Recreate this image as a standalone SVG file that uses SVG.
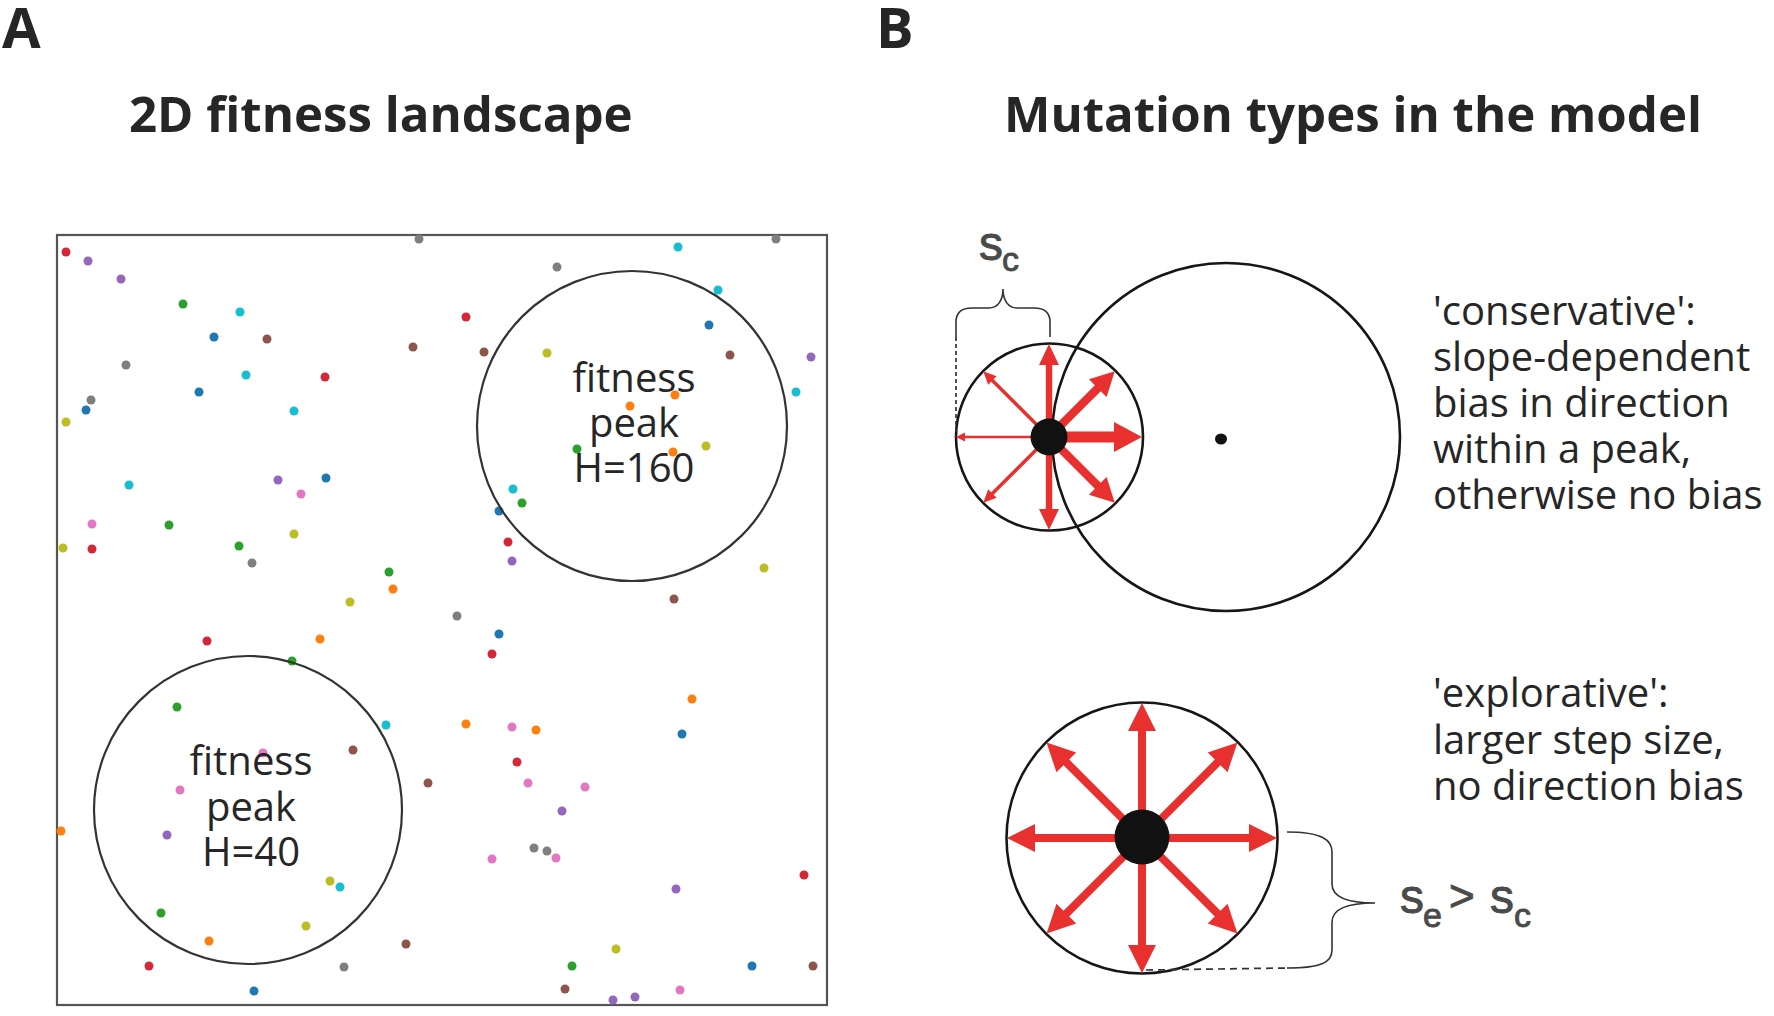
<svg xmlns="http://www.w3.org/2000/svg" xmlns:xlink="http://www.w3.org/1999/xlink" width="1774" height="1016" viewBox="0 0 1774 1016">
<style>
text{font-family:"Open Sans","Liberation Sans",sans-serif;fill:#262626}
.panel{font-weight:700;font-size:56px}
.title{font-weight:700;font-size:49.2px}
.lbl{font-size:40px}
.sym{font-family:"Liberation Sans",Arial,sans-serif;fill:#4a4a4a;stroke:#4a4a4a;stroke-width:0.9}
.box{fill:none;stroke:#555;stroke-width:2.2}
.peak{fill:none;stroke:#333;stroke-width:2.2}
.ring{fill:none;stroke:#161616;stroke-width:2.6}
.brace{fill:none;stroke:#333;stroke-width:1.6}
.dash{fill:none;stroke:#333;stroke-width:1.7;stroke-dasharray:7 5}
.arr{fill:#e8312f}
.r{fill:#d62739}.p{fill:#9467bd}.g{fill:#2ca02c}.c{fill:#17becf}.b{fill:#1f77b4}
.n{fill:#8c564b}.y{fill:#7f7f7f}.o{fill:#bcbd22}.f{fill:#ff7f0e}.k{fill:#e377c2}
</style>
<defs>
<polygon id="aBig" points="0,-5.5 65,-5.5 65,-15 93,0 65,15 65,5.5 0,5.5"/>
<polygon id="aDiag" points="0,-4.2 69,-4.2 69,-12.5 93,0 69,12.5 69,4.2 0,4.2"/>
<polygon id="aMid" points="0,-3.2 72,-3.2 72,-10 93,0 72,10 72,3.2 0,3.2"/>
<polygon id="aThin" points="0,-1.7 80,-1.7 80,-6 93,0 80,6 80,1.7 0,1.7"/>
<polygon id="aMin" points="0,-1.3 84,-1.3 84,-4.5 93,0 84,4.5 84,1.3 0,1.3"/>
<polygon id="aExp" points="0,-4 107,-4 107,-14 135,0 107,14 107,4 0,4"/>
</defs>
<rect width="1774" height="1016" fill="#fff"/>

<g id="panel-a-label"><text class="panel" x="2" y="48">A</text></g>
<g id="panel-b-label"><text class="panel" x="876" y="48">B</text></g>
<g id="title-a"><text class="title" x="129" y="132">2D fitness landscape</text></g>
<g id="title-b"><text class="title" x="1004" y="132">Mutation types in the model</text></g>

<g id="landscape">
<rect class="box" x="57" y="235" width="770" height="770"/>
<g id="population">
<circle class="r" cx="66" cy="252" r="4.5"/><circle class="p" cx="88" cy="261" r="4.5"/><circle class="p" cx="121" cy="279" r="4.5"/>
<circle class="g" cx="183" cy="304" r="4.5"/><circle class="c" cx="240" cy="312" r="4.5"/><circle class="b" cx="214" cy="337" r="4.5"/>
<circle class="n" cx="267" cy="339" r="4.5"/><circle class="y" cx="126" cy="365" r="4.5"/><circle class="c" cx="246" cy="375" r="4.5"/>
<circle class="r" cx="325" cy="377" r="4.5"/><circle class="b" cx="199" cy="392" r="4.5"/><circle class="y" cx="91" cy="400" r="4.5"/>
<circle class="b" cx="86" cy="410" r="4.5"/><circle class="o" cx="66" cy="422" r="4.5"/><circle class="c" cx="294" cy="411" r="4.5"/>
<circle class="c" cx="129" cy="485" r="4.5"/><circle class="p" cx="278" cy="480" r="4.5"/><circle class="b" cx="326" cy="478" r="4.5"/>
<circle class="k" cx="301" cy="494" r="4.5"/><circle class="k" cx="92" cy="524" r="4.5"/><circle class="g" cx="169" cy="525" r="4.5"/>
<circle class="o" cx="63" cy="548" r="4.5"/><circle class="r" cx="92" cy="549" r="4.5"/><circle class="g" cx="239" cy="546" r="4.5"/>
<circle class="o" cx="294" cy="534" r="4.5"/><circle class="y" cx="252" cy="563" r="4.5"/><circle class="g" cx="389" cy="572" r="4.5"/>
<circle class="f" cx="393" cy="589" r="4.5"/><circle class="o" cx="350" cy="602" r="4.5"/><circle class="y" cx="457" cy="616" r="4.5"/>
<circle class="y" cx="419" cy="239" r="4.5"/><circle class="r" cx="466" cy="317" r="4.5"/><circle class="n" cx="413" cy="347" r="4.5"/>
<circle class="c" cx="678" cy="247" r="4.5"/><circle class="y" cx="557" cy="267" r="4.5"/><circle class="y" cx="776" cy="239" r="4.5"/>
<circle class="c" cx="718" cy="290" r="4.5"/><circle class="b" cx="709" cy="325" r="4.5"/><circle class="n" cx="484" cy="352" r="4.5"/>
<circle class="o" cx="547" cy="353" r="4.5"/><circle class="n" cx="730" cy="355" r="4.5"/><circle class="p" cx="811" cy="357" r="4.5"/>
<circle class="c" cx="796" cy="392" r="4.5"/><circle class="f" cx="675" cy="395" r="4.5"/><circle class="f" cx="630" cy="406" r="4.5"/>
<circle class="g" cx="577" cy="449" r="4.5"/><circle class="f" cx="673" cy="452" r="4.5"/><circle class="o" cx="706" cy="446" r="4.5"/>
<circle class="c" cx="513" cy="489" r="4.5"/><circle class="g" cx="522" cy="503" r="4.5"/><circle class="b" cx="499" cy="511" r="4.5"/>
<circle class="r" cx="508" cy="542" r="4.5"/><circle class="p" cx="512" cy="561" r="4.5"/><circle class="o" cx="764" cy="568" r="4.5"/>
<circle class="n" cx="674" cy="599" r="4.5"/>
<circle class="r" cx="207" cy="641" r="4.5"/><circle class="f" cx="320" cy="639" r="4.5"/><circle class="g" cx="292" cy="661" r="4.5"/>
<circle class="g" cx="177" cy="707" r="4.5"/><circle class="c" cx="386" cy="725" r="4.5"/><circle class="f" cx="466" cy="724" r="4.5"/>
<circle class="k" cx="263" cy="753" r="4.5"/><circle class="n" cx="353" cy="750" r="4.5"/><circle class="n" cx="428" cy="783" r="4.5"/>
<circle class="k" cx="180" cy="790" r="4.5"/><circle class="f" cx="61" cy="831" r="4.5"/><circle class="p" cx="167" cy="835" r="4.5"/>
<circle class="o" cx="330" cy="881" r="4.5"/><circle class="c" cx="340" cy="887" r="4.5"/><circle class="g" cx="161" cy="913" r="4.5"/>
<circle class="o" cx="306" cy="926" r="4.5"/><circle class="n" cx="406" cy="944" r="4.5"/><circle class="f" cx="209" cy="941" r="4.5"/>
<circle class="r" cx="149" cy="966" r="4.5"/><circle class="y" cx="344" cy="967" r="4.5"/><circle class="b" cx="254" cy="991" r="4.5"/>
<circle class="b" cx="499" cy="634" r="4.5"/><circle class="r" cx="492" cy="654" r="4.5"/><circle class="f" cx="692" cy="699" r="4.5"/>
<circle class="k" cx="512" cy="727" r="4.5"/><circle class="f" cx="536" cy="730" r="4.5"/><circle class="b" cx="682" cy="734" r="4.5"/>
<circle class="r" cx="517" cy="762" r="4.5"/><circle class="k" cx="528" cy="783" r="4.5"/><circle class="k" cx="585" cy="787" r="4.5"/>
<circle class="p" cx="562" cy="811" r="4.5"/><circle class="y" cx="534" cy="848" r="4.5"/><circle class="y" cx="547" cy="851" r="4.5"/>
<circle class="k" cx="556" cy="858" r="4.5"/><circle class="k" cx="492" cy="859" r="4.5"/><circle class="r" cx="804" cy="875" r="4.5"/>
<circle class="p" cx="676" cy="889" r="4.5"/><circle class="o" cx="616" cy="949" r="4.5"/><circle class="g" cx="572" cy="966" r="4.5"/>
<circle class="b" cx="752" cy="966" r="4.5"/><circle class="n" cx="813" cy="966" r="4.5"/><circle class="n" cx="565" cy="989" r="4.5"/>
<circle class="k" cx="680" cy="990" r="4.5"/><circle class="p" cx="613" cy="1000" r="4.5"/><circle class="p" cx="635" cy="997" r="4.5"/>
</g>
<g id="peak-160">
<circle class="peak" cx="632" cy="426" r="155"/>
<text class="lbl" text-anchor="middle" x="634" y="392">fitness<tspan x="634" dy="45">peak</tspan><tspan x="634" dy="45">H=160</tspan></text>
</g>
<g id="peak-40">
<circle class="peak" cx="248" cy="810" r="154"/>
<text class="lbl" text-anchor="middle" x="251" y="775">fitness<tspan x="251" dy="45.5">peak</tspan><tspan x="251" dy="45.5">H=40</tspan></text>
</g>
</g>

<g id="conservative">
<circle class="ring" cx="1226" cy="437" r="174"/>
<ellipse cx="1221" cy="439" rx="6" ry="5.5" fill="#111"/>
<circle class="ring" cx="1049.5" cy="437" r="93.5"/>
<g transform="translate(1049,437)">
<use xlink:href="#aBig" class="arr"/>
<use xlink:href="#aDiag" class="arr" transform="rotate(45)"/>
<use xlink:href="#aMid" class="arr" transform="rotate(90)"/>
<use xlink:href="#aThin" class="arr" transform="rotate(135)"/>
<use xlink:href="#aMin" class="arr" transform="rotate(180)"/>
<use xlink:href="#aThin" class="arr" transform="rotate(225)"/>
<use xlink:href="#aMid" class="arr" transform="rotate(270)"/>
<use xlink:href="#aDiag" class="arr" transform="rotate(315)"/>
</g>
<circle cx="1049" cy="437" r="18.5" fill="#111"/>
<text class="lbl" x="1433" y="325">'conservative':<tspan x="1433" dy="46">slope-dependent</tspan><tspan x="1433" dy="46">bias in direction</tspan><tspan x="1433" dy="46">within a peak,</tspan><tspan x="1433" dy="46">otherwise no bias</tspan></text>
</g>

<g id="explorative">
<circle class="ring" cx="1142" cy="838" r="135.5"/>
<g transform="translate(1142,838)">
<use xlink:href="#aExp" class="arr"/>
<use xlink:href="#aExp" class="arr" transform="rotate(45)"/>
<use xlink:href="#aExp" class="arr" transform="rotate(90)"/>
<use xlink:href="#aExp" class="arr" transform="rotate(135)"/>
<use xlink:href="#aExp" class="arr" transform="rotate(180)"/>
<use xlink:href="#aExp" class="arr" transform="rotate(225)"/>
<use xlink:href="#aExp" class="arr" transform="rotate(270)"/>
<use xlink:href="#aExp" class="arr" transform="rotate(315)"/>
</g>
<circle cx="1142" cy="837" r="27.5" fill="#111"/>
<text class="lbl" x="1433" y="707">'explorative':<tspan x="1433" dy="46.5">larger step size,</tspan><tspan x="1433" dy="46.5">no direction bias</tspan></text>
</g>

<g id="connectors">
<path class="brace" d="M956,337 L956,322 C956,312 962,308 972,308 L989,308 C998,308 1003,300 1003,289 C1003,300 1008,308 1017,308 L1034,308 C1044,308 1050,312 1050,322 L1050,337"/>
<line class="dash" x1="956" y1="337" x2="956" y2="437" style="stroke-dasharray:4 3"/>
<path class="brace" d="M1287,832 C1322,832 1332,840 1332,852 L1332,884 C1332,896 1345,903 1375,903 C1345,903 1332,910 1332,922 L1332,950 C1332,962 1322,968 1287,968"/>
<line class="dash" x1="1146" y1="970" x2="1287" y2="968"/>
</g>

<g id="label-sc">
<text class="sym" x="979" y="260" font-size="48">s<tspan x="1002" y="271" font-size="34">c</tspan></text>
</g>
<g id="label-se-sc">
<text class="sym" x="1400" y="913" font-size="48">s<tspan x="1423" y="927" font-size="34">e</tspan><tspan x="1449" y="911" font-size="44">&gt;</tspan><tspan x="1490" y="913">s</tspan><tspan x="1514" y="927" font-size="34">c</tspan></text>
</g>
</svg>
